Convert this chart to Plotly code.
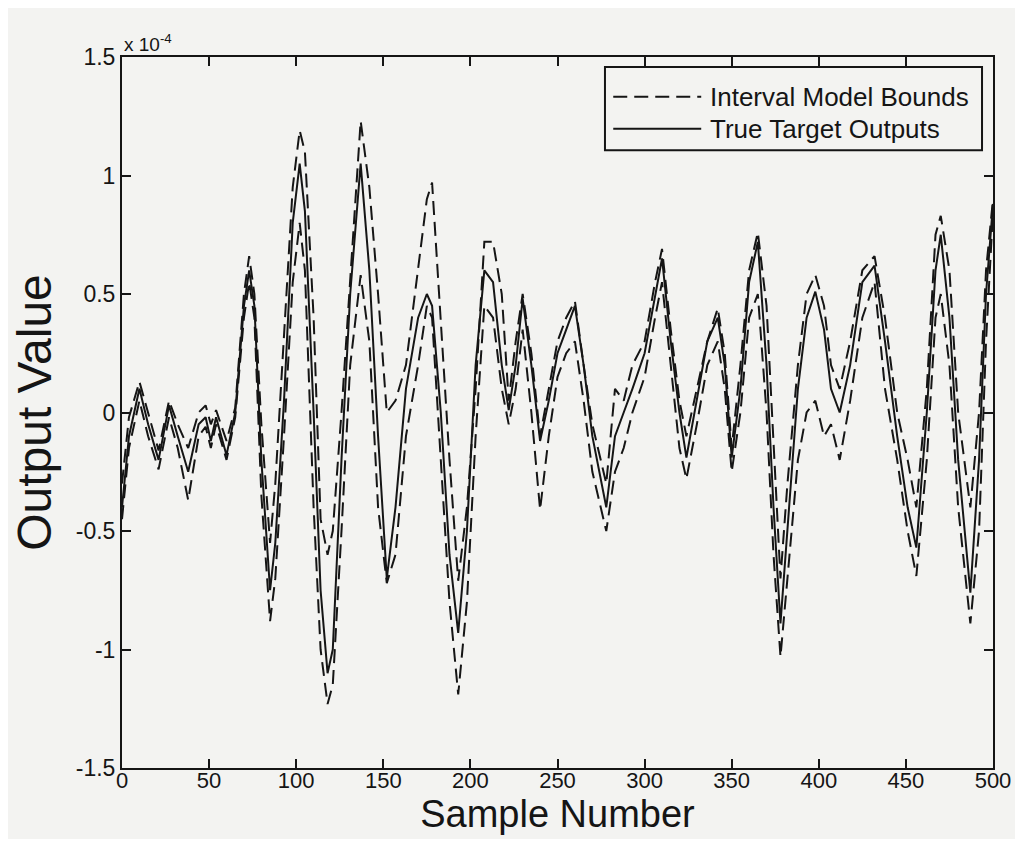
import plotly.graph_objects as go

samples = [0, 4, 10, 15, 21, 27, 32, 38, 44, 48, 51, 54, 60, 65, 70, 73, 76, 80, 85, 88,
           93, 98, 102, 105, 110, 114, 118, 121, 126, 131, 137, 142, 147, 152, 157, 163,
           170, 175, 178, 183, 188, 193, 198, 203, 208, 213, 218, 222, 226, 230, 235, 240,
           245, 250, 255, 260, 265, 270, 278, 283, 288, 293, 300, 306, 310, 315, 320, 324,
           330, 336, 342, 346, 350, 355, 360, 365, 370, 374, 378, 382, 388, 393, 398, 403,
           407, 412, 418, 425, 432, 438, 445, 451, 456, 462, 467, 470, 475, 480, 487, 492,
           496, 500]

target = [-0.40, -0.10, 0.10, -0.05, -0.20, 0.03, -0.10, -0.25, -0.05, -0.02, -0.12, -0.02,
          -0.18, 0.00, 0.45, 0.60, 0.45, -0.20, -0.75, -0.55, 0.05, 0.80, 1.05, 0.85, 0.00,
          -0.75, -1.10, -1.00, -0.20, 0.50, 1.05, 0.60, -0.10, -0.70, -0.40, 0.10, 0.40, 0.50,
          0.45, 0.00, -0.60, -0.93, -0.50, 0.20, 0.60, 0.55, 0.20, 0.01, 0.20, 0.48, 0.20,
          -0.12, 0.05, 0.25, 0.35, 0.45, 0.20, -0.10, -0.40, -0.10, 0.00, 0.10, 0.25, 0.50,
          0.65, 0.30, 0.00, -0.19, 0.05, 0.30, 0.40, 0.20, -0.19, 0.10, 0.55, 0.72, 0.20,
          -0.40, -0.89, -0.50, 0.10, 0.40, 0.51, 0.35, 0.10, 0.00, 0.20, 0.55, 0.62, 0.30,
          -0.10, -0.40, -0.57, 0.00, 0.60, 0.75, 0.40, -0.20, -0.76, -0.20, 0.50, 0.88]

upper = [-0.30, -0.02, 0.13, 0.00, -0.16, 0.05, -0.05, -0.15, 0.00, 0.03, -0.05, 0.01,
         -0.12, 0.02, 0.50, 0.66, 0.50, -0.05, -0.55, -0.30, 0.30, 0.95, 1.19, 1.10, 0.40,
         -0.45, -0.60, -0.50, 0.00, 0.55, 1.23, 0.95, 0.50, 0.00, 0.05, 0.20, 0.60, 0.90,
         0.97, 0.40, -0.20, -0.71, -0.40, 0.10, 0.72, 0.72, 0.50, 0.05, 0.30, 0.50, 0.25,
         -0.10, 0.10, 0.30, 0.40, 0.47, 0.20, -0.05, -0.30, 0.10, 0.05, 0.20, 0.30, 0.55,
         0.69, 0.35, 0.05, -0.10, 0.10, 0.30, 0.44, 0.25, -0.15, 0.20, 0.60, 0.76, 0.45,
         -0.10, -0.70, -0.30, 0.20, 0.50, 0.58, 0.45, 0.20, 0.10, 0.30, 0.60, 0.66, 0.40,
         0.00, -0.20, -0.40, 0.10, 0.75, 0.83, 0.60, 0.00, -0.40, 0.00, 0.60, 0.90]

lower = [-0.45, -0.15, 0.05, -0.10, -0.24, -0.02, -0.15, -0.37, -0.10, -0.06, -0.15, -0.05,
         -0.20, -0.02, 0.40, 0.55, 0.40, -0.35, -0.88, -0.70, -0.10, 0.55, 0.80, 0.60, -0.40,
         -1.00, -1.23, -1.15, -0.50, 0.20, 0.58, 0.30, -0.40, -0.72, -0.60, -0.10, 0.20, 0.45,
         0.40, -0.20, -0.80, -1.19, -0.80, -0.10, 0.45, 0.40, 0.10, -0.05, 0.10, 0.35, 0.00,
         -0.41, -0.10, 0.15, 0.25, 0.30, 0.05, -0.25, -0.50, -0.25, -0.15, 0.00, 0.15, 0.40,
         0.55, 0.20, -0.15, -0.28, -0.05, 0.20, 0.30, 0.10, -0.25, 0.00, 0.40, 0.50, 0.00,
         -0.60, -1.03, -0.70, -0.20, 0.00, 0.05, -0.10, -0.05, -0.20, 0.05, 0.40, 0.55, 0.10,
         -0.20, -0.50, -0.69, -0.20, 0.40, 0.50, 0.20, -0.40, -0.89, -0.50, 0.30, 0.85]

x_ticks = [0, 50, 100, 150, 200, 250, 300, 350, 400, 450, 500]
y_ticks = [-1.5, -1, -0.5, 0, 0.5, 1, 1.5]
y_tick_labels = ["-1.5", "-1", "-0.5", "0", "0.5", "1", "1.5"]
legend_labels = ["Interval Model Bounds", "True Target Outputs"]

ink = "#151515"
bg = "#f3f3f1"
font_family = "Liberation Sans, Arial, sans-serif"
dash = "14px,7px"

fig = go.Figure()
fig.add_trace(go.Scatter(x=samples, y=upper, mode="lines", name=legend_labels[0],
                         line=dict(color=ink, width=2, dash=dash)))
fig.add_trace(go.Scatter(x=samples, y=lower, mode="lines", name="lower bound",
                         line=dict(color=ink, width=2, dash=dash)))
fig.add_trace(go.Scatter(x=samples, y=target, mode="lines", name=legend_labels[1],
                         line=dict(color=ink, width=2)))

# hand-drawn MATLAB-style legend (paper coordinates)
shapes = [
    dict(type="rect", xref="paper", yref="paper", x0=0.5545, x1=0.9874, y0=0.869, y1=0.986,
         line=dict(color=ink, width=2), fillcolor=bg),
    dict(type="line", xref="paper", yref="paper", x0=0.5640, x1=0.6650, y0=0.944, y1=0.944,
         line=dict(color=ink, width=2, dash=dash)),
    dict(type="line", xref="paper", yref="paper", x0=0.5640, x1=0.6650, y0=0.899, y1=0.899,
         line=dict(color=ink, width=2)),
]
annotations = [
    dict(text="x 10<sup>-4</sup>", xref="paper", yref="paper", x=0.0, y=1.0,
         xanchor="left", yanchor="bottom", showarrow=False,
         font=dict(size=19, family=font_family, color=ink)),
    dict(text=legend_labels[0], xref="paper", yref="paper", x=0.6725, y=0.944,
         xanchor="left", yanchor="middle", showarrow=False,
         font=dict(size=26, family=font_family, color=ink)),
    dict(text=legend_labels[1], xref="paper", yref="paper", x=0.6725, y=0.899,
         xanchor="left", yanchor="middle", showarrow=False,
         font=dict(size=26, family=font_family, color=ink)),
]

fig.update_layout(
    width=1007, height=831,
    margin=dict(l=114, r=22, t=49, b=71, autoexpand=False),
    paper_bgcolor=bg, plot_bgcolor=bg,
    font=dict(family=font_family, color=ink, size=22),
    showlegend=False,
    shapes=shapes,
    annotations=annotations,
)
fig.update_xaxes(range=[0, 500], tickvals=x_ticks, ticks="inside", ticklen=9,
                 tickwidth=2, tickcolor=ink, showline=True, linecolor=ink, linewidth=2,
                 mirror="ticks", showgrid=False, zeroline=False, ticklabelstandoff=-8,
                 ticklabeloverflow="allow", automargin=False,
                 tickfont=dict(size=22, family=font_family, color=ink),
                 title=dict(text="Sample Number", font=dict(size=38, family=font_family, color=ink),
                            standoff=0))
fig.update_yaxes(range=[-1.5, 1.5], tickvals=y_ticks, ticktext=y_tick_labels, ticks="inside",
                 ticklen=9, tickwidth=2, tickcolor=ink, showline=True, linecolor=ink,
                 linewidth=2, mirror="ticks", showgrid=False, zeroline=False, automargin=False,
                 tickfont=dict(size=23, family=font_family, color=ink),
                 title=dict(text="Output Value", font=dict(size=48, family=font_family, color=ink),
                            standoff=36))

fig.write_html("out.html")
